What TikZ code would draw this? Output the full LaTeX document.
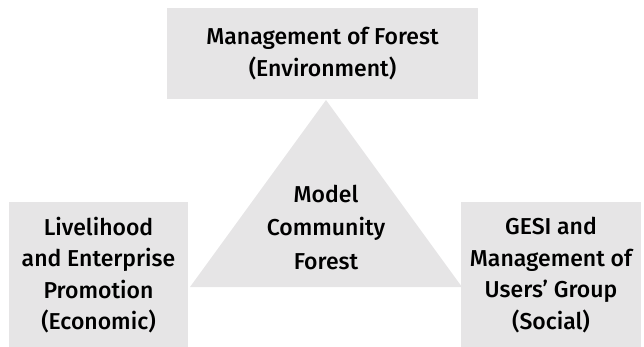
\documentclass[tikz,border=0pt]{standalone}
\usepackage{fontspec}
\setmainfont{Fira Sans}[UprightFont={* Medium}]
\definecolor{boxgrey}{HTML}{E6E5E6}
\begin{document}
\begin{tikzpicture}[x=1pt,y=-1pt,
  box/.style={fill=boxgrey, draw=none, inner sep=0pt, align=center, font=\fontsize{23}{31.5}\selectfont},
  lbl/.style={inner sep=0pt, align=center, font=\fontsize{23}{33.5}\selectfont}]
\useasboundingbox (0,0) rectangle (644,347);
% triangle
\coordinate (apex) at (326,100);
\coordinate (bl) at (190,287);
\coordinate (br) at (462,287);
\fill[boxgrey] (apex) -- (bl) -- (br) -- cycle;
\node[lbl] (core) at (326,227) {Model\\Community\\Forest};
% boxes
\node[box, minimum width=311pt, minimum height=91pt] (env) at (322.5,53.5) {Management of Forest\\(Environment)};
\node[box, minimum width=179pt, minimum height=146pt] (eco) at (98.5,275) {Livelihood\\and Enterprise\\Promotion\\(Economic)};
\node[box, minimum width=180pt, minimum height=146pt] (soc) at (551,275) {GESI and\\Management of\\Users’ Group\\(Social)};
\end{tikzpicture}
\end{document}
